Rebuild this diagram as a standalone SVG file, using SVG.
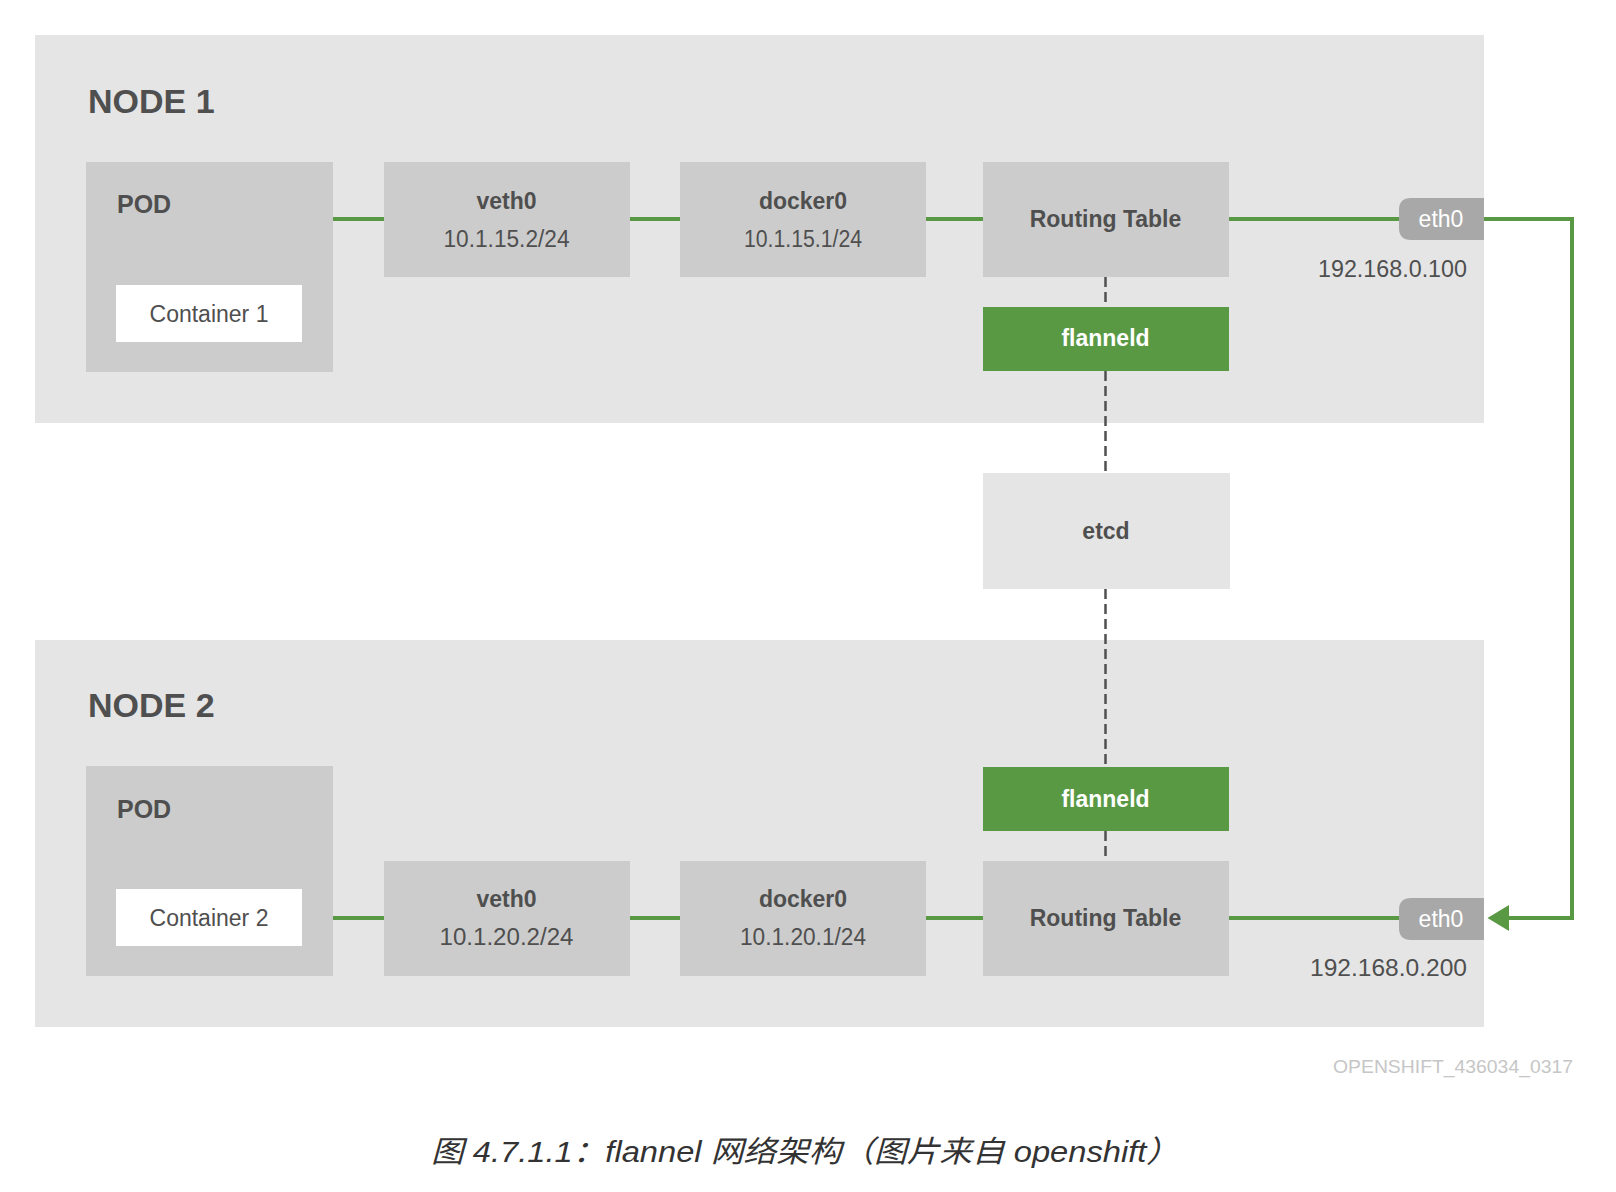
<svg xmlns="http://www.w3.org/2000/svg" width="1616" height="1192" viewBox="0 0 1616 1192">
<style>
.bg{fill:#e5e5e5}
.box{fill:#cccccc}
.white{fill:#ffffff}
.green{fill:#5a9944}
.tab{fill:#a8a8a8}
text{font-family:"Liberation Sans","Noto Sans",Arial,sans-serif;fill:#4f4f4f}
.title{font-size:34px;font-weight:bold}
.pod{font-size:25px;font-weight:bold}
.lbl{font-size:23px;font-weight:bold;text-anchor:middle}
.ip{font-size:23px;text-anchor:middle}
.reg{font-size:23px}
.wt{fill:#ffffff}
.link{stroke:#5a9944;stroke-width:4;fill:none}
.dash{stroke:#505050;stroke-width:2.5;stroke-dasharray:10 5;fill:none}
</style>
<defs>
<marker id="arrow" markerWidth="22" markerHeight="26" refX="0" refY="13" orient="auto" markerUnits="userSpaceOnUse">
<path d="M22,0 L0,13 L22,26 Z" fill="#5a9944"/>
</marker>
</defs>
<rect width="1616" height="1192" fill="#ffffff"/>

<g id="node1">
<rect class="bg" x="35" y="35" width="1449" height="388"/>
<text class="title" x="88" y="113">NODE 1</text>
</g>
<g id="node2">
<rect class="bg" x="35" y="640" width="1449" height="387"/>
<text class="title" x="88" y="717">NODE 2</text>
</g>

<g id="connectors">
<line class="link" x1="332" y1="219" x2="384" y2="219"/>
<line class="link" x1="629" y1="219" x2="680" y2="219"/>
<line class="link" x1="926" y1="219" x2="983" y2="219"/>
<line class="link" x1="1229" y1="219" x2="1400" y2="219"/>
<line class="link" x1="332" y1="918" x2="384" y2="918"/>
<line class="link" x1="629" y1="918" x2="680" y2="918"/>
<line class="link" x1="926" y1="918" x2="983" y2="918"/>
<line class="link" x1="1229" y1="918" x2="1400" y2="918"/>
<path class="link" d="M1484,219 H1572 V918 H1509"/>
<path d="M1509,905 L1487.5,918 L1509,931 Z" fill="#5a9944"/>
<line class="dash" x1="1105.5" y1="277" x2="1105.5" y2="307"/>
<line class="dash" x1="1105.5" y1="371" x2="1105.5" y2="473"/>
<line class="dash" x1="1105.5" y1="589" x2="1105.5" y2="767"/>
<line class="dash" x1="1105.5" y1="831" x2="1105.5" y2="861"/>
</g>

<g id="pod1">
<rect class="box" x="86" y="162" width="247" height="210"/>
<text class="pod" x="117" y="213">POD</text>
</g>
<g id="container1">
<rect class="white" x="116" y="285" width="186" height="57"/>
<text class="reg" x="209" y="322" text-anchor="middle">Container 1</text>
</g>
<g id="veth0-1">
<rect class="box" x="384" y="162" width="246" height="115"/>
<text class="lbl" x="506.5" y="209">veth0</text>
<text class="ip" x="506.5" y="247" textLength="126" lengthAdjust="spacingAndGlyphs">10.1.15.2/24</text>
</g>
<g id="docker0-1">
<rect class="box" x="680" y="162" width="246" height="115"/>
<text class="lbl" x="803" y="209">docker0</text>
<text class="ip" x="803" y="247" textLength="118" lengthAdjust="spacingAndGlyphs">10.1.15.1/24</text>
</g>
<g id="routing1">
<rect class="box" x="983" y="162" width="246" height="115"/>
<text class="lbl" x="1105.5" y="227">Routing Table</text>
</g>
<g id="flanneld1">
<rect class="green" x="983" y="307" width="246" height="64"/>
<text class="lbl wt" x="1105.5" y="346">flanneld</text>
</g>
<g id="eth0-1">
<path class="tab" d="M1411,198 H1484 V240 H1411 Q1399,240 1399,228 V210 Q1399,198 1411,198 Z"/>
<text class="ip wt" x="1441" y="227">eth0</text>
<text class="reg" x="1467" y="277" text-anchor="end" textLength="149" lengthAdjust="spacingAndGlyphs">192.168.0.100</text>
</g>

<g id="etcd">
<rect class="bg" x="983" y="473" width="247" height="116"/>
<text class="lbl" x="1106" y="539">etcd</text>
</g>

<g id="pod2">
<rect class="box" x="86" y="766" width="247" height="210"/>
<text class="pod" x="117" y="818">POD</text>
</g>
<g id="container2">
<rect class="white" x="116" y="889" width="186" height="57"/>
<text class="reg" x="209" y="926" text-anchor="middle">Container 2</text>
</g>
<g id="veth0-2">
<rect class="box" x="384" y="861" width="246" height="115"/>
<text class="lbl" x="506.5" y="907">veth0</text>
<text class="ip" x="506.5" y="945" textLength="134" lengthAdjust="spacingAndGlyphs">10.1.20.2/24</text>
</g>
<g id="docker0-2">
<rect class="box" x="680" y="861" width="246" height="115"/>
<text class="lbl" x="803" y="907">docker0</text>
<text class="ip" x="803" y="945" textLength="126" lengthAdjust="spacingAndGlyphs">10.1.20.1/24</text>
</g>
<g id="flanneld2">
<rect class="green" x="983" y="767" width="246" height="64"/>
<text class="lbl wt" x="1105.5" y="807">flanneld</text>
</g>
<g id="routing2">
<rect class="box" x="983" y="861" width="246" height="115"/>
<text class="lbl" x="1105.5" y="926">Routing Table</text>
</g>
<g id="eth0-2">
<path class="tab" d="M1411,898 H1484 V940 H1411 Q1399,940 1399,928 V910 Q1399,898 1411,898 Z"/>
<text class="ip wt" x="1441" y="927">eth0</text>
<text class="reg" x="1467" y="976" text-anchor="end" textLength="157" lengthAdjust="spacingAndGlyphs">192.168.0.200</text>
</g>

<text x="1573" y="1073" text-anchor="end" style="font-size:19px;fill:#c6c6c6" textLength="240" lengthAdjust="spacingAndGlyphs">OPENSHIFT_436034_0317</text>
<text x="805" y="1162" text-anchor="middle" style="font-family:'Liberation Sans','Noto Sans CJK SC',sans-serif;font-size:30px;font-style:italic;fill:#333333" textLength="748" lengthAdjust="spacingAndGlyphs">图 4.7.1.1：flannel 网络架构（图片来自 openshift）</text>
</svg>
